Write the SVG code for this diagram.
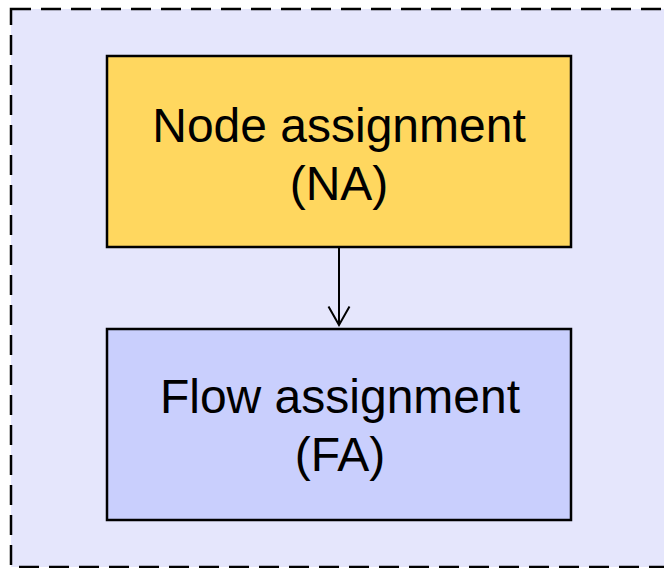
<svg xmlns="http://www.w3.org/2000/svg" width="664" height="568" viewBox="0 0 664 568">
  <defs>
    <style>
      .lbl { font-family: "Liberation Sans", Arial, sans-serif; font-size: 48px; fill: #000; text-anchor: middle; }
      .box { stroke: #000; stroke-width: 2.5; }
      .conn { stroke: #000; stroke-width: 2; fill: none; }
    </style>
    <marker id="open" viewBox="0 0 22 24" refX="20" refY="12" markerWidth="22" markerHeight="24" markerUnits="userSpaceOnUse" orient="auto">
      <path d="M1.5,1.5 L20,12 L1.5,22.5" fill="none" stroke="#000" stroke-width="2"/>
    </marker>
  </defs>
  <rect x="0" y="0" width="664" height="568" fill="#ffffff"/>
  <g id="container">
    <rect x="11" y="9" width="680" height="558" fill="#e5e6fc" stroke="#000" stroke-width="2.5" stroke-dasharray="20 10"/>
  </g>
  <g id="node-na">
    <rect class="box" x="107" y="56" width="464" height="191" fill="#ffd75f"/>
    <text class="lbl" x="339" y="142">Node assignment</text>
    <text class="lbl" x="339" y="200">(NA)</text>
  </g>
  <g id="node-fa">
    <rect class="box" x="107" y="329" width="464" height="191" fill="#c9cffd"/>
    <text class="lbl" x="340" y="413">Flow assignment</text>
    <text class="lbl" x="340" y="471">(FA)</text>
  </g>
  <g id="connectors">
    <line class="conn" x1="339" y1="248" x2="339" y2="325" marker-end="url(#open)"/>
  </g>
</svg>
